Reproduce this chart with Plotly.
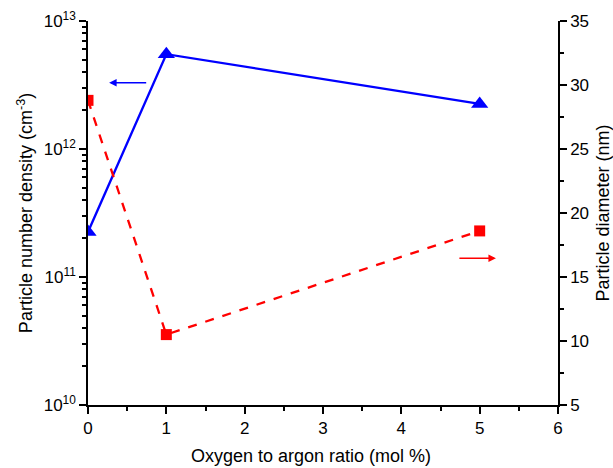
import plotly.graph_objects as go

ratio = [0, 1, 5]
density = [2.25e11, 5.5e12, 2.25e12]
diameter = [28.8, 10.5, 18.6]

left_ticks = [1e10, 1e11, 1e12, 1e13]
left_text = ["10<sup>10</sup>", "10<sup>11</sup>", "10<sup>12</sup>", "10<sup>13</sup>"]

font = "Liberation Sans, Arial, sans-serif"

fig = go.Figure()
fig.add_trace(go.Scatter(x=ratio, y=density, mode="lines+markers",
                         line=dict(color="#0000ff", width=2.3),
                         marker=dict(symbol="triangle-up", size=15, color="#0000ff"),
                         yaxis="y", showlegend=False))
fig.add_trace(go.Scatter(x=ratio, y=diameter, mode="lines+markers",
                         line=dict(color="#ff0000", width=2.3, dash="dash"),
                         marker=dict(symbol="square", size=11, color="#ff0000"),
                         yaxis="y2", showlegend=False))

axis_common = dict(showline=True, linecolor="black", linewidth=1.5, ticks="outside",
                   ticklen=7, tickwidth=1.5, tickcolor="black", showgrid=False, zeroline=False,
                   automargin=False,
                   tickfont=dict(family=font, size=17, color="black"))

fig.update_layout(
    width=613, height=468,
    margin=dict(l=88, r=55, t=21, b=63),
    plot_bgcolor="white", paper_bgcolor="white",
    font=dict(family=font, color="black"),
    xaxis=dict(range=[0, 6], dtick=1, tick0=0,
               minor=dict(dtick=0.5, ticks="outside", ticklen=4, tickwidth=1.5, tickcolor="black"),
               **axis_common),
    yaxis=dict(type="log", range=[10, 13], tickvals=left_ticks, ticktext=left_text,
               title=dict(text="Particle number density (cm<sup>-3</sup>)", font=dict(family=font, size=18), standoff=6),
               minor=dict(ticks="outside", ticklen=4, tickwidth=1.5, tickcolor="black",
                          tickvals=[m * 10 ** e for e in (10, 11, 12) for m in range(2, 10)]),
               **axis_common),
    yaxis2=dict(overlaying="y", side="right", range=[5, 35], dtick=5, tick0=5,
                title=dict(text="Particle diameter (nm)", font=dict(family=font, size=18), standoff=10),
                minor=dict(dtick=2.5, ticks="outside", ticklen=4, tickwidth=1.5, tickcolor="black"),
                **axis_common),
)

fig.add_annotation(x=0.475, y=-0.133, xref="paper", yref="paper", xanchor="center",
                   yanchor="middle", showarrow=False,
                   text="Oxygen to argon ratio (mol %)", font=dict(family=font, size=18, color="black"))

fig.add_annotation(x=0.045, y=0.839, xref="x domain", yref="y domain",
                   ax=0.127, ay=0.839, axref="x domain", ayref="y domain",
                   text="", showarrow=True, arrowhead=2, arrowsize=1, arrowwidth=1.5,
                   arrowcolor="#0000ff")
fig.add_annotation(x=0.868, y=0.382, xref="x domain", yref="y domain",
                   ax=0.787, ay=0.382, axref="x domain", ayref="y domain",
                   text="", showarrow=True, arrowhead=2, arrowsize=1, arrowwidth=1.5,
                   arrowcolor="#ff0000")

fig.write_html("out.html")
